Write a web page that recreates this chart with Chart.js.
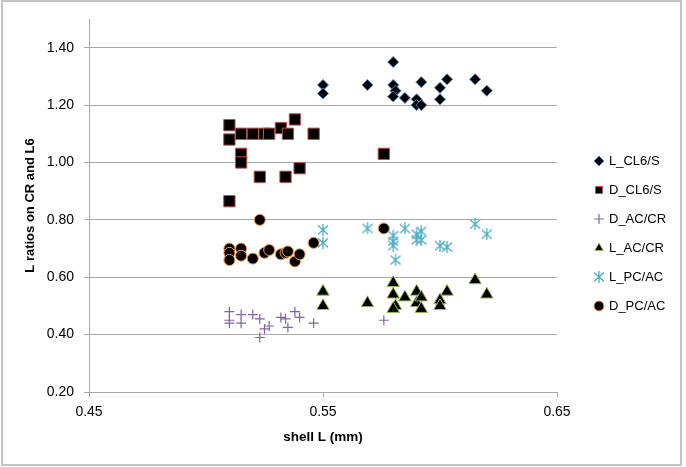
<!DOCTYPE html>
<html>
<head>
<meta charset="utf-8">
<script src="https://cdn.jsdelivr.net/npm/chart.js@4/dist/chart.umd.min.js"></script>
<style>
  html, body { margin: 0; padding: 0; background: #fff; }
  #wrap { width: 686px; height: 467px; }
</style>
</head>
<body>
<div id="wrap"><canvas id="chart" width="686" height="467"></canvas></div>
<script>
// axis ticks
const X_TICKS = [0.45, 0.55, 0.65];
const Y_TICKS = [0.20, 0.40, 0.60, 0.80, 1.00, 1.20, 1.40];

// L_CL6/S (diamonds)
const lCl6X = [0.550, 0.550, 0.569, 0.580, 0.580, 0.581, 0.580, 0.585, 0.590, 0.590, 0.592, 0.592, 0.600, 0.600, 0.603, 0.615, 0.620];
const lCl6Y = [1.27, 1.24, 1.27, 1.35, 1.27, 1.25, 1.23, 1.225, 1.22, 1.20, 1.28, 1.20, 1.26, 1.22, 1.29, 1.29, 1.25];

// D_CL6/S (squares)
const dCl6X = [0.510, 0.510, 0.510, 0.515, 0.515, 0.515, 0.520, 0.523, 0.525, 0.527, 0.532, 0.534, 0.535, 0.538, 0.540, 0.546, 0.576];
const dCl6Y = [1.13, 1.08, 0.865, 1.10, 1.03, 1.00, 1.10, 0.95, 1.10, 1.10, 1.12, 0.95, 1.10, 1.15, 0.98, 1.10, 1.03];

// D_AC/CR (plus)
const dAcX = [0.510, 0.510, 0.510, 0.515, 0.515, 0.520, 0.523, 0.523, 0.525, 0.527, 0.532, 0.534, 0.535, 0.538, 0.540, 0.546, 0.576];
const dAcY = [0.48, 0.45, 0.44, 0.47, 0.44, 0.47, 0.455, 0.39, 0.42, 0.43, 0.46, 0.455, 0.425, 0.48, 0.46, 0.44, 0.45];

// L_AC/CR (triangles)
const lAcX = [0.550, 0.550, 0.569, 0.580, 0.580, 0.581, 0.580, 0.585, 0.590, 0.590, 0.592, 0.592, 0.600, 0.600, 0.603, 0.615, 0.620];
const lAcY = [0.55, 0.50, 0.51, 0.58, 0.54, 0.50, 0.49, 0.53, 0.55, 0.51, 0.53, 0.49, 0.52, 0.50, 0.55, 0.59, 0.54];

// L_PC/AC (asterisks)
const lPcX = [0.550, 0.550, 0.569, 0.580, 0.580, 0.580, 0.581, 0.585, 0.590, 0.590, 0.592, 0.592, 0.600, 0.603, 0.615, 0.620];
const lPcY = [0.765, 0.72, 0.77, 0.745, 0.725, 0.71, 0.66, 0.77, 0.75, 0.73, 0.76, 0.73, 0.71, 0.705, 0.785, 0.75];

// D_PC/AC (circles)
const dPcX = [0.510, 0.510, 0.510, 0.515, 0.515, 0.520, 0.523, 0.525, 0.527, 0.532, 0.534, 0.535, 0.538, 0.540, 0.546, 0.576];
const dPcY = [0.70, 0.685, 0.66, 0.70, 0.675, 0.665, 0.80, 0.685, 0.695, 0.68, 0.685, 0.69, 0.655, 0.68, 0.72, 0.77];

const toPoints = (xs, ys) => xs.map((x, i) => ({ x, y: ys[i] }));

// Excel style "x with a bar" marker
function asteriskMarker(size, color) {
    const c = document.createElement('canvas');
    c.width = size; c.height = size;
    const g = c.getContext('2d');
    g.strokeStyle = color;
    g.lineWidth = 1.3;
    g.beginPath();
    g.moveTo(1, 1.5); g.lineTo(size - 1, size - 1.5);
    g.moveTo(size - 1, 1.5); g.lineTo(1, size - 1.5);
    g.moveTo(size / 2, 0); g.lineTo(size / 2, size);
    g.stroke();
    return c;
}

const GRID = '#a8a8a8';
const AXIS = '#a8a8a8';

Chart.defaults.font.family = "'Liberation Sans', Arial, sans-serif";
Chart.defaults.color = '#000';

// white page with a thin grey frame
const frame = {
    id: 'frame',
    beforeDraw(chart) {
        const ctx = chart.ctx;
        ctx.save();
        ctx.fillStyle = '#fff';
        ctx.fillRect(0, 0, chart.width, chart.height);
        ctx.strokeStyle = '#c4c4c4';
        ctx.lineWidth = 2;
        ctx.strokeRect(2, 1, 679, 464);
        ctx.restore();
    }
};

// keep the plot area where Excel put it, and move the legend to its spot
const legendPlace = {
    id: 'legendPlace',
    beforeLayout(chart) {
        const lg = chart.legend;
        if (lg && !lg._fixedWidth) {
            const fit = lg.fit;
            lg.fit = function () { fit.call(this); this.width = 129; };
            lg._fixedWidth = true;
        }
    },
    afterLayout(chart) {
        const lg = chart.legend;
        lg.left = 579.5; lg.right = 686;
        lg.top = 138.5; lg.bottom = 467;
    }
};

new Chart(document.getElementById('chart'), {
    type: 'scatter',
    data: {
        datasets: [
            {
                label: 'L_CL6/S',
                data: toPoints(lCl6X, lCl6Y),
                pointStyle: 'rectRot',
                pointRadius: 5.5,
                backgroundColor: '#000',
                borderColor: '#4f81bd',
                borderWidth: 1
            },
            {
                label: 'D_CL6/S',
                data: toPoints(dCl6X, dCl6Y),
                pointStyle: 'rect',
                pointRadius: 8,
                backgroundColor: '#000',
                borderColor: '#c0504d',
                borderWidth: 1
            },
            {
                label: 'D_AC/CR',
                data: toPoints(dAcX, dAcY),
                pointStyle: 'cross',
                pointRadius: 5,
                backgroundColor: '#8064a2',
                borderColor: '#8064a2',
                borderWidth: 1.2
            },
            {
                label: 'L_AC/CR',
                data: toPoints(lAcX, lAcY),
                pointStyle: 'triangle',
                pointRadius: 7.2,
                backgroundColor: '#000',
                borderColor: '#9bbb59',
                borderWidth: 1
            },
            {
                label: 'L_PC/AC',
                data: toPoints(lPcX, lPcY),
                pointStyle: asteriskMarker(12, '#4bacc6'),
                pointRadius: 6,
                backgroundColor: '#4bacc6',
                borderColor: '#4bacc6',
                borderWidth: 1
            },
            {
                label: 'D_PC/AC',
                data: toPoints(dPcX, dPcY),
                pointStyle: 'circle',
                pointRadius: 5.5,
                backgroundColor: '#000',
                borderColor: '#f79646',
                borderWidth: 1
            }
        ]
    },
    options: {
        responsive: false,
        animation: false,
        layout: { padding: { left: 0, top: 19, right: 0, bottom: 0 } },
        plugins: {
            tooltip: { enabled: false },
            legend: {
                position: 'right',
                align: 'start',
                labels: {
                    usePointStyle: true,
                    boxWidth: 7,
                    boxHeight: 7,
                    padding: 16,
                    color: '#000',
                    font: { size: 13 }
                }
            }
        },
        scales: {
            x: {
                type: 'linear',
                min: 0.45,
                max: 0.65,
                afterBuildTicks: s => { s.ticks = X_TICKS.map(v => ({ value: v })); },
                afterFit: s => { s.height = 75; },
                grid: { drawOnChartArea: false, drawTicks: true, tickLength: 5, color: GRID },
                border: { color: AXIS },
                ticks: {
                    callback: v => Number(v).toFixed(2),
                    font: { size: 14 },
                    color: '#000',
                    padding: 7,
                    maxRotation: 0,
                    autoSkip: false
                },
                title: {
                    display: true,
                    text: 'shell L (mm)',
                    color: '#000',
                    font: { size: 13.5, weight: 'bold' },
                    padding: { top: 0, bottom: 22 }
                }
            },
            y: {
                type: 'linear',
                min: 0.2,
                max: 1.5,
                afterBuildTicks: s => { s.ticks = Y_TICKS.map(v => ({ value: v })); },
                afterFit: s => { s.width = 89; },
                grid: { color: GRID, drawTicks: true, tickLength: 5 },
                border: { color: AXIS },
                ticks: {
                    callback: v => Number(v).toFixed(2),
                    font: { size: 14 },
                    color: '#000',
                    padding: 10
                },
                title: {
                    display: true,
                    text: 'L ratios on CR and L6',
                    color: '#000',
                    font: { size: 13, weight: 'bold' },
                    padding: { top: 23, bottom: 0 }
                }
            }
        }
    },
    plugins: [frame, legendPlace]
});
</script>
</body>
</html>
